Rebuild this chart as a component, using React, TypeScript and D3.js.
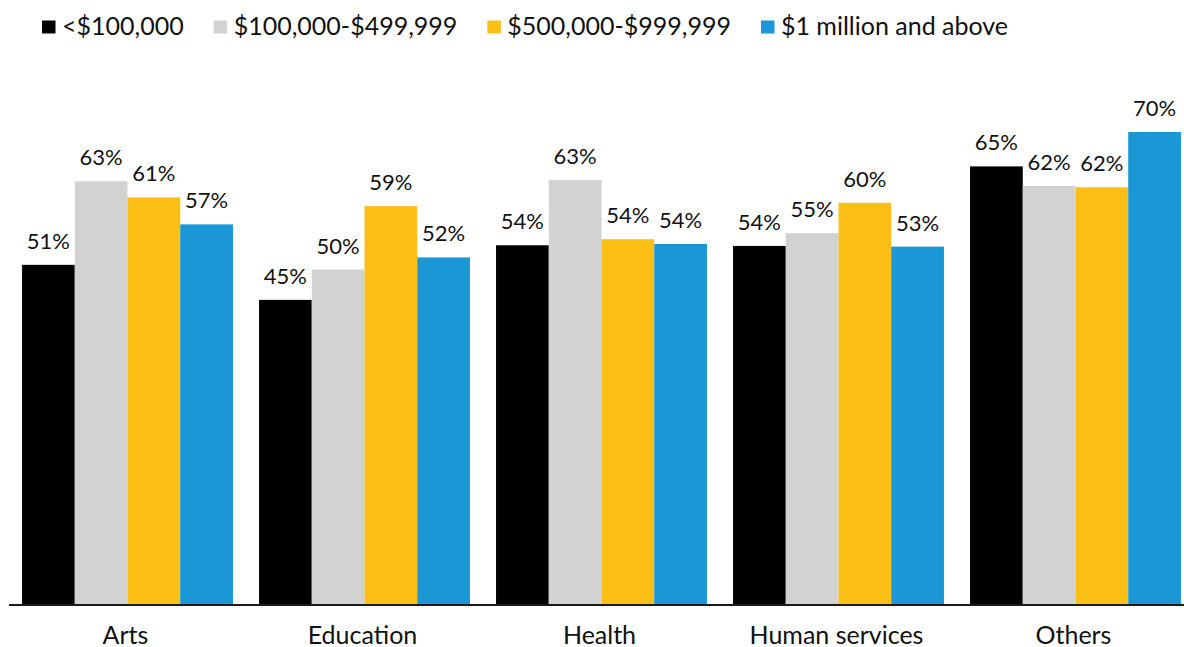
import React, { useLayoutEffect, useRef, useState } from "react";
import * as d3 from "d3";

const categories = ["Arts", "Education", "Health", "Human services", "Others"];
const seriesNames = ["<$100,000", "$100,000-$499,999", "$500,000-$999,999", "$1 million and above"];
const seriesColors = ["#000000", "#d2d2d2", "#fcbf16", "#1a97d4"];

// bar heights (percent)
const under100k = [50.3, 45.1, 53.2, 53.1, 64.9];
const from100kTo500k = [62.7, 49.6, 62.9, 55.0, 62.0];
const from500kTo1m = [60.3, 59.0, 54.1, 59.5, 61.8];
const over1m = [56.3, 51.4, 53.4, 53.0, 70.0];

// printed data labels
const under100kLabels = ["51%", "45%", "54%", "54%", "65%"];
const from100kTo500kLabels = ["63%", "50%", "63%", "55%", "62%"];
const from500kTo1mLabels = ["61%", "59%", "54%", "60%", "62%"];
const over1mLabels = ["57%", "52%", "54%", "53%", "70%"];

const seriesValues = [under100k, from100kTo500k, from500kTo1m, over1m];
const seriesLabels = [under100kLabels, from100kTo500kLabels, from500kTo1mLabels, over1mLabels];

const W = 1184;
const H = 647;
const FONT = "Lato, 'Open Sans', sans-serif";

export default function App() {
  const legendRefs = useRef<(SVGTextElement | null)[]>([]);
  const [widths, setWidths] = useState<number[]>(seriesNames.map(() => 150));

  useLayoutEffect(() => {
    document.body.style.margin = "0";
    const w = legendRefs.current.map((el) => (el ? el.getComputedTextLength() : 150));
    setWidths(w);
  }, []);

  const x0 = d3.scaleBand<string>().domain(categories).range([9, 1194]).paddingInner(0.11).paddingOuter(0.055);
  const x1 = d3.scaleBand<number>().domain(d3.range(seriesNames.length)).range([0, x0.bandwidth()]).padding(0);
  const y = d3.scaleLinear().domain([0, 70]).range([604, 132]);

  // legend layout
  const sqW = 13.5;
  const sqH = 13;
  const textOffset = 20;
  const legendStart = 42;
  const gap = 30;
  const legendX: number[] = [];
  let cur = legendStart;
  widths.forEach((w) => {
    legendX.push(cur);
    cur += textOffset + w + gap;
  });

  return (
    <svg width={W} height={H} style={{ position: "absolute", left: 0, top: 0, display: "block" }} fontFamily={FONT}>
      <rect x={0} y={0} width={W} height={H} fill="#ffffff" />
      {/* legend */}
      {seriesNames.map((name, i) => (
        <g key={name} transform={`translate(${legendX[i]},0)`}>
          <rect x={0} y={20.5} width={sqW} height={sqH} fill={seriesColors[i]} />
          <text
            ref={(el) => {
              legendRefs.current[i] = el;
            }}
            x={textOffset}
            y={35}
            fontSize={25}
            fill="#111"
          >
            {name}
          </text>
        </g>
      ))}
      {/* bars */}
      {categories.map((cat, ci) => (
        <g key={cat} transform={`translate(${x0(cat)},0)`}>
          {seriesValues.map((vals, si) => {
            const bx = x1(si) as number;
            const bw = x1.bandwidth();
            const v = vals[ci];
            return (
              <g key={si}>
                <rect x={bx} y={y(v)} width={bw} height={y(0) - y(v)} fill={seriesColors[si]} />
                <text x={bx + bw / 2} y={y(v) - 16} textAnchor="middle" fontSize={22} fill="#111">
                  {seriesLabels[si][ci]}
                </text>
              </g>
            );
          })}
          <text x={x0.bandwidth() / 2 - 2} y={644} textAnchor="middle" fontSize={25} fill="#111">
            {cat}
          </text>
        </g>
      ))}
      {/* axis baseline */}
      <line x1={9} x2={W} y1={y(0) + 1} y2={y(0) + 1} stroke="#1a1a1a" strokeWidth={2} />
    </svg>
  );
}
